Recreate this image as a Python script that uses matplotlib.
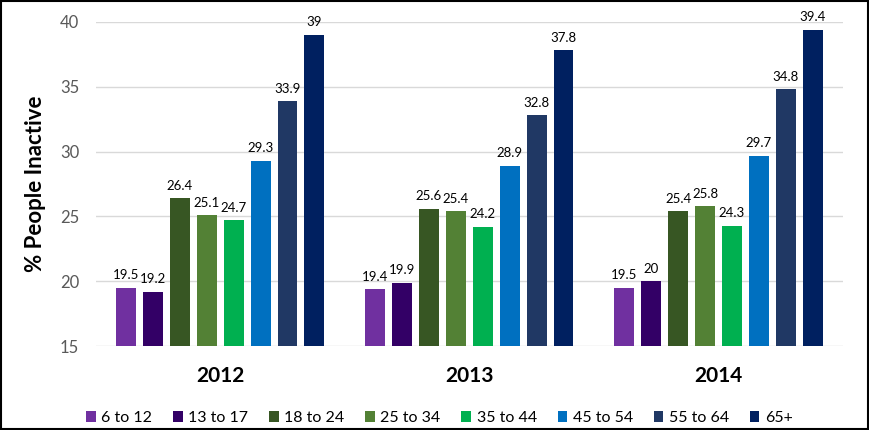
import numpy as np
import matplotlib.pyplot as plt
from matplotlib.patches import Rectangle

years = ["2012", "2013", "2014"]
groups = ["6 to 12", "13 to 17", "18 to 24", "25 to 34", "35 to 44", "45 to 54", "55 to 64", "65+"]
values = [
    [19.5, 19.4, 19.5],
    [19.2, 19.9, 20],
    [26.4, 25.6, 25.4],
    [25.1, 25.4, 25.8],
    [24.7, 24.2, 24.3],
    [29.3, 28.9, 29.7],
    [33.9, 32.8, 34.8],
    [39, 37.8, 39.4],
]
colors = ["#7030A0", "#330066", "#375623", "#538135", "#00B050", "#0070C0", "#203864", "#002060"]

plt.rcParams['font.family'] = ['Lato', 'DejaVu Sans']

fig = plt.figure(figsize=(8.7, 4.3), dpi=100)
ax = fig.add_axes([0.110, 0.195, 0.859, 0.754])

x = np.arange(len(years))
step = 0.108
width = 0.08
for i, (g, v, c) in enumerate(zip(groups, values, colors)):
    pos = x + (i - 3.5) * step
    ax.bar(pos, [val - 15 for val in v], bottom=15, width=width, color=c, label=g, zorder=3)
    for px, val in zip(pos, v):
        ax.text(px, val + 0.5, f"{val:g}", ha="center", va="bottom", fontsize=9.5, color="#000000", clip_on=False)

ax.set_xlim(-0.5, 2.5)
ax.set_ylim(15, 40)
ax.set_yticks([15, 20, 25, 30, 35, 40])
ax.tick_params(axis="y", length=0, labelsize=12, labelcolor="#595959", pad=12)
ax.set_xticks(x)
ax.set_xticklabels(years, fontsize=15, fontweight="bold")
ax.tick_params(axis="x", length=0, pad=14)
ax.grid(axis="y", color="#D9D9D9", linewidth=1, zorder=0)
for s in ax.spines.values():
    s.set_visible(False)
ax.set_ylabel("% People Inactive", fontsize=16, fontweight="bold", labelpad=10)

ax.legend(loc="center", bbox_to_anchor=(0.46, -0.222), ncol=8, frameon=False,
          fontsize=11.5, handlelength=0.6, handleheight=0.6, handletextpad=0.35, columnspacing=1.3)

fig.patches.append(Rectangle((0.001, 0.002), 0.997, 0.996, transform=fig.transFigure,
                             fill=False, edgecolor="black", linewidth=1.5))

fig.savefig("out.png", dpi=100)
